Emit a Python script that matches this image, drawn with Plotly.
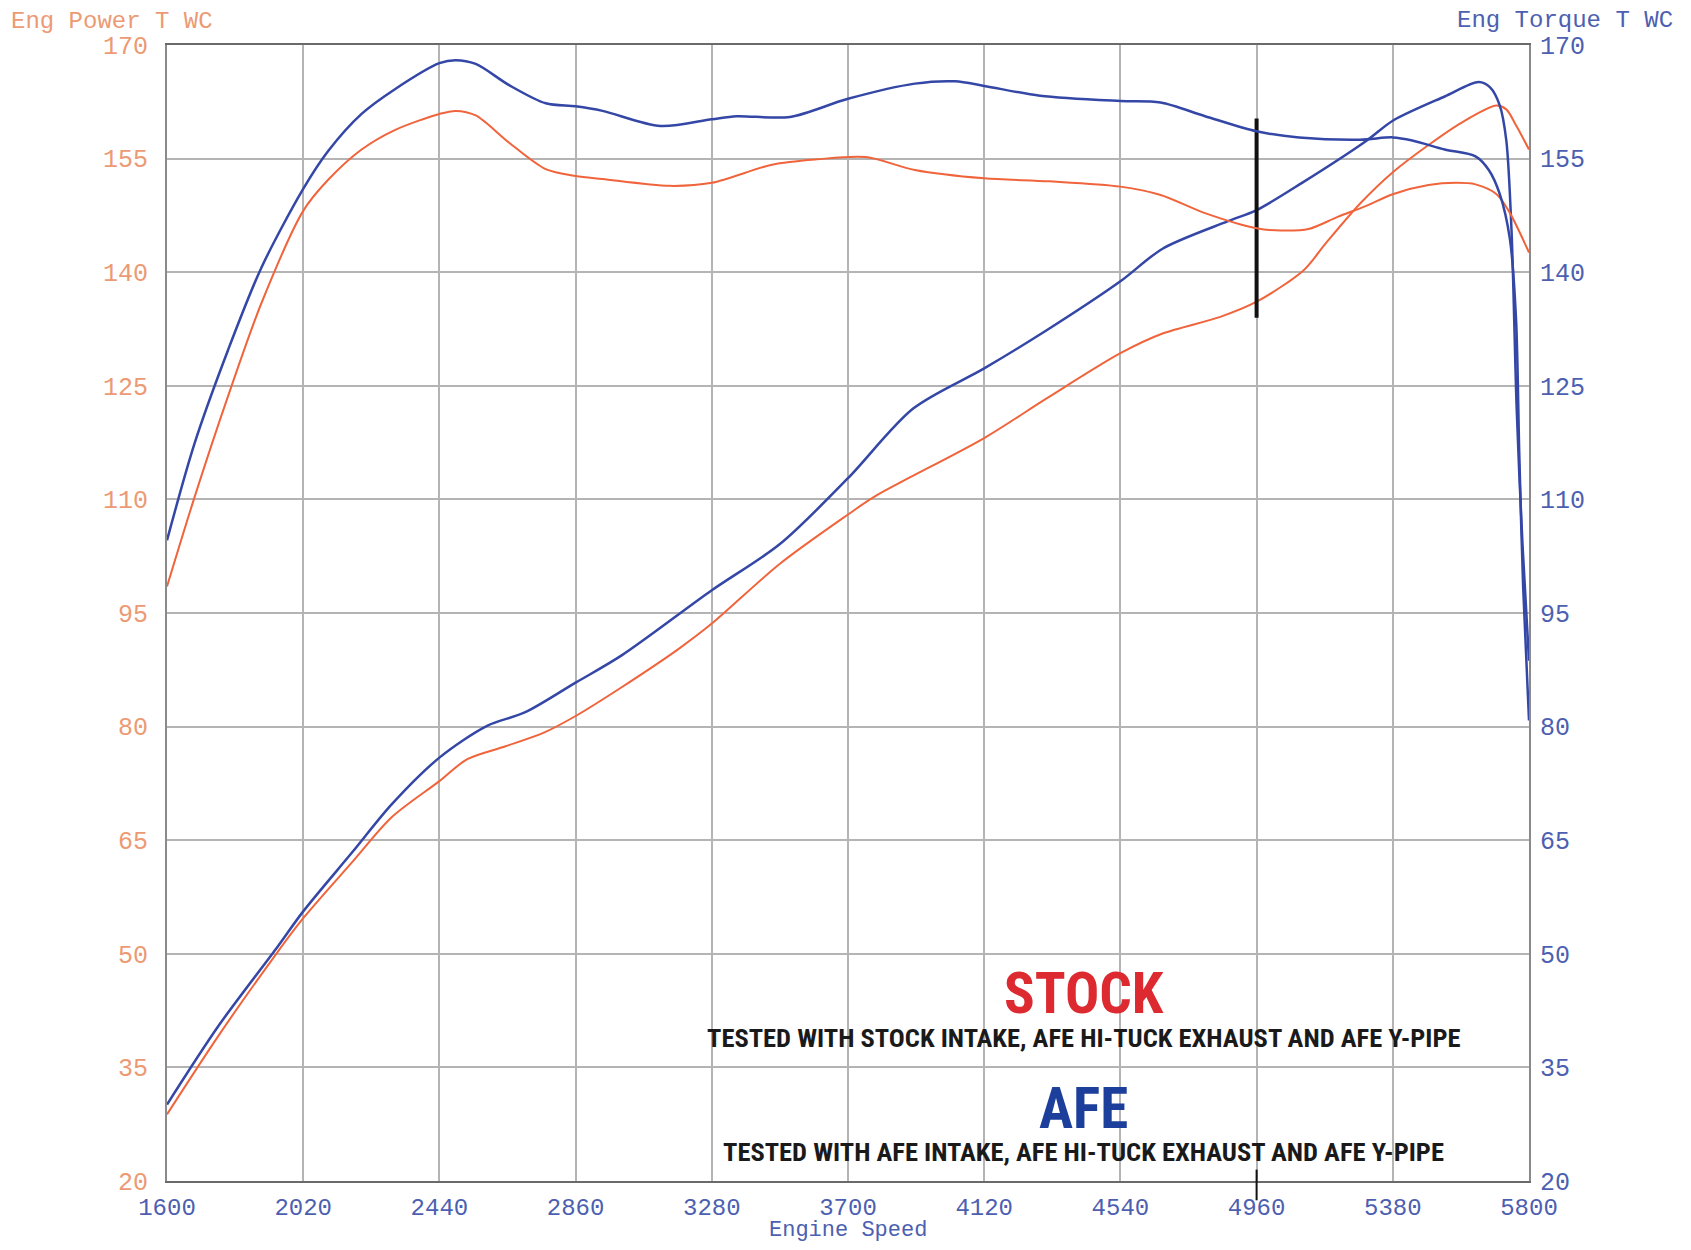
import plotly.graph_objects as go

# ---------------- data ----------------
rpm_ticks = [1600, 2020, 2440, 2860, 3280, 3700, 4120, 4540, 4960, 5380, 5800]
y_ticks = [20, 35, 50, 65, 80, 95, 110, 125, 140, 155, 170]

afe_torque_rpm = [1600, 1685, 1788, 1891, 2020, 2097, 2200, 2304, 2440, 2490, 2552, 2655, 2768,
                  2860, 2943, 3122, 3280, 3356, 3521, 3700, 3906, 4030, 4120, 4292, 4540, 4664,
                  4801, 4960, 5091, 5280, 5380, 5440, 5540, 5635, 5676, 5710, 5741, 5760, 5770,
                  5782, 5800]
afe_torque = [104.6, 117.4, 129.7, 140.6, 151.0, 156.0, 160.9, 164.2, 167.6, 168.0, 167.5, 164.7, 162.3,
              161.9, 161.3, 159.3, 160.2, 160.6, 160.5, 162.9, 164.9, 165.2, 164.6, 163.3, 162.6, 162.4,
              160.6, 158.6, 157.8, 157.5, 157.8, 157.4, 156.2, 155.3, 153.5, 150.3, 144.4, 133.8, 116.0,
              98.4, 80.8]

stock_torque_rpm = [1600, 1685, 1788, 1891, 2020, 2097, 2200, 2304, 2440, 2490, 2552, 2655, 2768,
                    2860, 2943, 3149, 3280, 3466, 3604, 3755, 3906, 4120, 4320, 4540, 4664, 4801,
                    4960, 5035, 5120, 5210, 5300, 5380, 5490, 5575, 5635, 5700, 5740, 5800]
stock_torque = [98.5, 110.3, 123.6, 135.9, 148.1, 152.2, 156.2, 158.8, 160.9, 161.3, 160.7, 157.1, 153.6,
                152.7, 152.3, 151.4, 151.8, 154.2, 154.9, 155.2, 153.5, 152.4, 152.0, 151.3, 150.2, 147.8,
                145.8, 145.5, 145.7, 147.3, 148.8, 150.3, 151.5, 151.8, 151.6, 150.3, 147.9, 142.6]

afe_power_rpm = [1600, 1759, 1937, 2020, 2173, 2292, 2440, 2587, 2705, 2860, 3002, 3280, 3490,
                 3700, 3901, 4120, 4315, 4540, 4670, 4870, 4960, 5100, 5300, 5380, 5540, 5645,
                 5680, 5710, 5730, 5746, 5762, 5780, 5800]
afe_power = [30.1, 40.5, 50.7, 55.6, 63.5, 69.7, 75.9, 80.1, 81.9, 85.8, 89.4, 98.0, 104.1,
             112.8, 122.0, 127.3, 132.4, 138.8, 143.1, 146.7, 148.2, 151.8, 157.4, 160.0, 163.2, 165.1,
             164.4, 162.0, 157.4, 145.6, 122.0, 104.0, 88.7]

stock_power_rpm = [1600, 1759, 1937, 2020, 2173, 2292, 2440, 2526, 2644, 2762, 2860, 3002, 3179,
                   3280, 3490, 3700, 3783, 4120, 4315, 4540, 4670, 4848, 4960, 5106, 5173, 5280,
                   5380, 5490, 5590, 5700, 5730, 5760, 5800]
stock_power = [28.8, 39.2, 50.0, 54.7, 62.2, 68.0, 72.8, 75.7, 77.4, 79.2, 81.4, 85.2, 90.3,
               93.6, 101.5, 108.0, 110.4, 118.1, 123.4, 129.3, 131.9, 134.1, 136.1, 140.3, 143.8, 149.1,
               153.2, 156.8, 159.7, 162.0, 161.5, 159.4, 156.2]

marker_rpm = 4960
marker_range = [160.3, 134.0]

# ---------------- style ----------------
BLUE = "#3447a6"
ORANGE = "#f0643c"
LBL_OR = "#ec9a74"
LBL_BL = "#4d5fb0"
GRID = "#b4b4b4"
MONO = "Liberation Mono, Courier New, monospace"
NARROW = "Liberation Sans Narrow, Arial Narrow, Roboto Condensed, sans-serif"

fig = go.Figure()
sm = 0.85
fig.add_trace(go.Scatter(x=stock_power_rpm, y=stock_power, mode="lines",
                         line=dict(color=ORANGE, width=2, shape="spline", smoothing=sm), yaxis="y"))
fig.add_trace(go.Scatter(x=stock_torque_rpm, y=stock_torque, mode="lines",
                         line=dict(color=ORANGE, width=2, shape="spline", smoothing=sm), yaxis="y2"))
fig.add_trace(go.Scatter(x=afe_power_rpm, y=afe_power, mode="lines",
                         line=dict(color=BLUE, width=2.5, shape="spline", smoothing=sm), yaxis="y"))
fig.add_trace(go.Scatter(x=afe_torque_rpm, y=afe_torque, mode="lines",
                         line=dict(color=BLUE, width=2.5, shape="spline", smoothing=sm), yaxis="y2"))
fig.add_trace(go.Scatter(x=[marker_rpm, marker_rpm], y=marker_range, mode="lines",
                         line=dict(color="#111111", width=4), yaxis="y"))

# page body has an 8px margin, so the figure is 16px smaller than the window
fig.update_layout(
    width=1675, height=1234,
    margin=dict(l=159, r=154, t=37, b=61),
    paper_bgcolor="white", plot_bgcolor="white",
    showlegend=False,
    xaxis=dict(range=[1600, 5800], tickvals=rpm_ticks, ticktext=[str(v) for v in rpm_ticks],
               showgrid=True, gridcolor=GRID, gridwidth=1.5, zeroline=False,
               showline=True, linecolor="#6a6a6a", linewidth=2, mirror=True,
               ticks="", ticklabelstandoff=3,
               tickfont=dict(family=MONO, size=24, color=LBL_BL)),
    yaxis=dict(range=[20, 170], tickvals=y_ticks, showgrid=True, gridcolor=GRID, gridwidth=1.5,
               zeroline=False, showline=True, linecolor="#8a8a8a", linewidth=2, mirror=True,
               ticks="", ticklabelstandoff=12,
               tickfont=dict(family=MONO, size=25, color=LBL_OR)),
    yaxis2=dict(range=[20, 170], tickvals=y_ticks, overlaying="y", side="right",
                showgrid=False, zeroline=False, showline=False, ticks="", ticklabelstandoff=10,
                tickfont=dict(family=MONO, size=25, color=LBL_BL)),
)

# small tick at bottom of the marker
fig.add_shape(type="line", xref="x", yref="paper", x0=marker_rpm, x1=marker_rpm,
              y0=-0.017, y1=0.01, line=dict(color="#111111", width=2))

ann = [
    dict(text="Eng Power T WC", x=-0.116, y=1.021, xanchor="left", yanchor="middle",
         font=dict(family=MONO, size=24, color=LBL_OR)),
    dict(text="Eng Torque T WC", x=1.107, y=1.0215, xanchor="right", yanchor="middle",
         font=dict(family=MONO, size=24, color=LBL_BL)),
    dict(text="Engine Speed", x=0.5, y=-0.0432, xanchor="center", yanchor="middle",
         font=dict(family=MONO, size=22, color=LBL_BL)),
    dict(text="<b>STOCK</b>", x=0.673, y=0.1652, xanchor="center", yanchor="middle",
         font=dict(family=NARROW, size=57, color="#dc2a30")),
    dict(text="<b>TESTED WITH STOCK INTAKE, AFE HI-TUCK EXHAUST AND AFE Y-PIPE</b>", x=0.673, y=0.1265,
         xanchor="center", yanchor="middle", font=dict(family=NARROW, size=26.5, color="#1a1a1a")),
    dict(text="<b>AFE</b>", x=0.673, y=0.0640, xanchor="center", yanchor="middle",
         font=dict(family=NARROW, size=57, color="#1d3f9c")),
    dict(text="<b>TESTED WITH AFE INTAKE, AFE HI-TUCK EXHAUST AND AFE Y-PIPE</b>", x=0.673, y=0.0262,
         xanchor="center", yanchor="middle", font=dict(family=NARROW, size=26.5, color="#1a1a1a")),
]
for a in ann:
    fig.add_annotation(xref="paper", yref="paper", showarrow=False, **a)

fig.write_html("out.html")
